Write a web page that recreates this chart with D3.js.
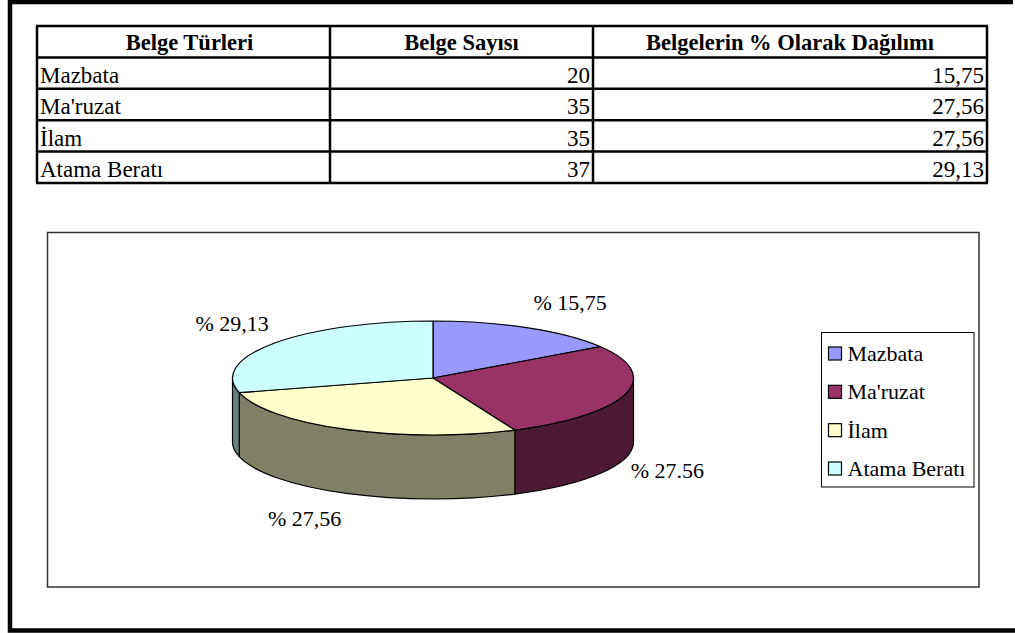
<!DOCTYPE html>
<html>
<head>
<meta charset="utf-8">
<script src="https://cdn.jsdelivr.net/npm/d3@7"></script>
<style>
  body { margin: 0; background: #fff; }
  svg { display: block; }
</style>
</head>
<body>
<div class="chart"></div>
<script>
// Data
var categories = ["Mazbata", "Ma'ruzat", "İlam", "Atama Beratı"];
var counts = [20, 35, 35, 37];
var percentText = ["15,75", "27,56", "27,56", "29,13"];
var pieLabels = ["% 15,75", "% 27.56", "% 27,56", "% 29,13"];
var headers = ["Belge Türleri", "Belge Sayısı", "Belgelerin % Olarak Dağılımı"];
var colors = ["#9999FF", "#993366", "#FFFFCC", "#CCFFFF"];

var svgWidth = 1015;
var svgHeight = 633;
var serif = "'Liberation Serif', 'Times New Roman', Times, serif";

var svg = d3.select(".chart")
  .append("svg")
  .attr("width", svgWidth)
  .attr("height", svgHeight)
  .attr("font-family", serif);

// Outer page frame (right side runs off the picture)
svg.append("path")
  .attr("d", "M1013,2H10V630.5H1015")
  .attr("fill", "none")
  .attr("stroke", "#000")
  .attr("stroke-width", 4.5);

// ---------- Table ----------
var colEdges = [37, 330, 593, 987];
var rowScale = d3.scaleBand()
  .domain(["header"].concat(categories))
  .range([26, 183]);

var table = svg.append("g");

// horizontal rules
table.selectAll("line.h")
  .data(rowScale.domain().concat(["end"]))
  .enter().append("line")
  .attr("class", "h")
  .attr("x1", colEdges[0] - 1)
  .attr("x2", colEdges[3] + 1)
  .attr("y1", function(d) { return d === "end" ? rowScale.range()[1] : rowScale(d); })
  .attr("y2", function(d) { return d === "end" ? rowScale.range()[1] : rowScale(d); })
  .attr("stroke", "#000")
  .attr("stroke-width", 2.5);

// vertical rules
table.selectAll("line.v")
  .data(colEdges)
  .enter().append("line")
  .attr("class", "v")
  .attr("x1", function(d) { return d; })
  .attr("x2", function(d) { return d; })
  .attr("y1", rowScale.range()[0])
  .attr("y2", rowScale.range()[1])
  .attr("stroke", "#000")
  .attr("stroke-width", 2.5);

// header text
table.selectAll("text.head")
  .data(headers)
  .enter().append("text")
  .attr("class", "head")
  .attr("x", function(d, i) { return (colEdges[i] + colEdges[i + 1]) / 2 + (i === 0 ? 6 : 0); })
  .attr("y", rowScale("header") + rowScale.bandwidth() - 7)
  .attr("text-anchor", "middle")
  .attr("font-family", serif)
  .attr("font-weight", "bold")
  .attr("font-size", 22.5)
  .text(function(d) { return d; });

// body rows
var rows = table.selectAll("g.row")
  .data(categories)
  .enter().append("g")
  .attr("class", "row")
  .attr("transform", function(d) { return "translate(0," + (rowScale(d) + rowScale.bandwidth() - 6) + ")"; });

rows.append("text")
  .attr("x", colEdges[0] + 3)
  .attr("font-family", serif)
  .attr("font-size", 23)
  .text(function(d) { return d; });

rows.append("text")
  .attr("x", colEdges[2] - 3)
  .attr("text-anchor", "end")
  .attr("font-family", serif)
  .attr("font-size", 23)
  .text(function(d, i) { return counts[i]; });

rows.append("text")
  .attr("x", colEdges[3] - 3)
  .attr("text-anchor", "end")
  .attr("font-family", serif)
  .attr("font-size", 23)
  .text(function(d, i) { return percentText[i]; });

// ---------- Chart area ----------
svg.append("rect")
  .attr("x", 47.5)
  .attr("y", 232.5)
  .attr("width", 931.5)
  .attr("height", 354.5)
  .attr("fill", "#fff")
  .attr("stroke", "#333")
  .attr("stroke-width", 1.5);

// 3D pie geometry
var cx = 433, cy = 378, rx = 200.5, ry = 57, depth = 64;

var pie = d3.pie().sort(null).value(function(d) { return d; });
var arcsData = pie(counts);

function pt(a, dy) {
  return [cx + rx * Math.sin(a), cy - ry * Math.cos(a) + (dy || 0)];
}

function shade(c) {
  var col = d3.rgb(c);
  return d3.rgb(col.r / 2, col.g / 2, col.b / 2).formatHex();
}

// side walls (only the front half, angles PI/2 .. 3PI/2)
var sides = svg.append("g");
arcsData.forEach(function(d, i) {
  var a0 = Math.max(d.startAngle, Math.PI / 2);
  var a1 = Math.min(d.endAngle, Math.PI * 1.5);
  if (a0 >= a1) return;
  var p0 = pt(a0), p1 = pt(a1), q0 = pt(a0, depth), q1 = pt(a1, depth);
  var path = "M" + p0 + "A" + rx + "," + ry + " 0 0 1 " + p1 +
    "L" + q1 + "A" + rx + "," + ry + " 0 0 0 " + q0 + "Z";
  sides.append("path")
    .attr("d", path)
    .attr("fill", shade(colors[i]))
    .attr("stroke", "#000")
    .attr("stroke-width", 1.2)
    .attr("stroke-linejoin", "round");
});

// top faces
var arc = d3.arc().innerRadius(0).outerRadius(rx);
svg.append("g")
  .attr("transform", "translate(" + cx + "," + cy + ") scale(1," + (ry / rx) + ")")
  .selectAll("path")
  .data(arcsData)
  .enter().append("path")
  .attr("d", arc)
  .attr("fill", function(d, i) { return colors[i]; })
  .attr("stroke", "#000")
  .attr("stroke-width", 1.2)
  .attr("vector-effect", "non-scaling-stroke")
  .attr("stroke-linejoin", "round");

// data labels outside each slice
svg.append("g")
  .selectAll("text")
  .data(arcsData)
  .enter().append("text")
  .attr("x", function(d) {
    var a = (d.startAngle + d.endAngle) / 2;
    return pt(a)[0] + (Math.sin(a) > 0 ? 42 : -42);
  })
  .attr("y", function(d) {
    var a = (d.startAngle + d.endAngle) / 2;
    var c = Math.cos(a);
    var p = c < 0 ? pt(a, depth) : pt(a);
    return p[1] + (c > 0 ? -1 : 1) * (8 + Math.abs(c) * 19) + 7;
  })
  .attr("text-anchor", "middle")
  .attr("font-family", serif)
  .attr("font-size", 22)
  .text(function(d, i) { return pieLabels[i]; });

// ---------- Legend ----------
var legend = svg.append("g").attr("transform", "translate(821.5,332.5)");
legend.append("rect")
  .attr("width", 152.5)
  .attr("height", 154.5)
  .attr("fill", "#fff")
  .attr("stroke", "#000")
  .attr("stroke-width", 1);

var legendY = d3.scalePoint().domain(categories).range([21, 136]);
var items = legend.selectAll("g.item")
  .data(categories)
  .enter().append("g")
  .attr("class", "item")
  .attr("transform", function(d) { return "translate(0," + legendY(d) + ")"; });

items.append("rect")
  .attr("x", 7)
  .attr("y", -6.5)
  .attr("width", 13)
  .attr("height", 13)
  .attr("fill", function(d, i) { return colors[i]; })
  .attr("stroke", "#000")
  .attr("stroke-width", 1.2);

items.append("text")
  .attr("x", 26)
  .attr("y", 7.5)
  .attr("font-family", serif)
  .attr("font-size", 22)
  .text(function(d) { return d; });
</script>
</body>
</html>
